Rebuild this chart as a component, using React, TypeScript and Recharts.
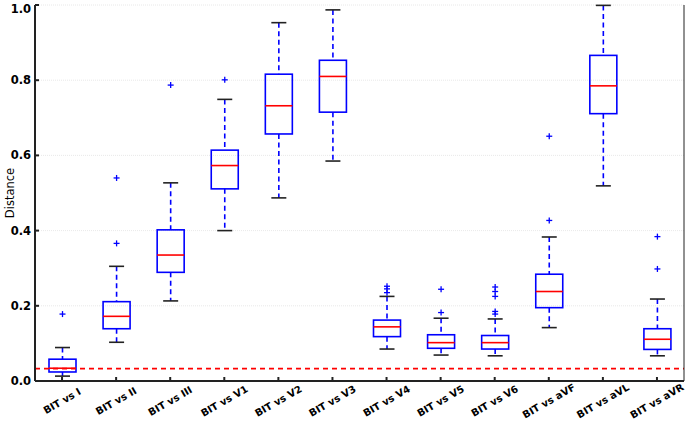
import React from 'react';
import {
  Bar,
  CartesianGrid,
  ComposedChart,
  ReferenceLine,
  XAxis,
  YAxis
} from 'recharts';

const categories = [
  'BIT vs I', 'BIT vs II', 'BIT vs III', 'BIT vs V1', 'BIT vs V2', 'BIT vs V3',
  'BIT vs V4', 'BIT vs V5', 'BIT vs V6', 'BIT vs aVF', 'BIT vs aVL', 'BIT vs aVR'
];
const whiskerLow = [0.013, 0.103, 0.213, 0.4, 0.487, 0.585, 0.085, 0.069, 0.067, 0.142, 0.519, 0.067];
const q1 = [0.024, 0.139, 0.289, 0.511, 0.657, 0.715, 0.118, 0.087, 0.085, 0.195, 0.711, 0.084];
const medians = [0.034, 0.172, 0.335, 0.573, 0.732, 0.81, 0.144, 0.102, 0.102, 0.238, 0.785, 0.111];
const q3 = [0.058, 0.211, 0.402, 0.614, 0.816, 0.853, 0.162, 0.123, 0.121, 0.284, 0.866, 0.139];
const whiskerHigh = [0.089, 0.305, 0.527, 0.749, 0.953, 0.987, 0.225, 0.167, 0.165, 0.383, 0.999, 0.218];
const outliers = [
  [0.178],
  [0.366, 0.54],
  [0.787],
  [0.801],
  [],
  [],
  [0.235, 0.245, 0.252],
  [0.182, 0.244],
  [0.178, 0.185, 0.225, 0.238, 0.25],
  [0.427, 0.651],
  [],
  [0.298, 0.384]
];
const yTicks = [0, 0.2, 0.4, 0.6, 0.8, 1.0];
const threshold = 0.033;

const data = categories.map((name, i) => ({
  name,
  lo: whiskerLow[i],
  q1: q1[i],
  med: medians[i],
  q3: q3[i],
  hi: whiskerHigh[i],
  out: outliers[i]
}));

const FONT = '"DejaVu Sans", sans-serif';

function BoxShape(props: any) {
  const { x, y, width, height, payload } = props;
  const { lo, hi } = payload;
  const k = height / (hi - lo);
  const toY = (v: number) => y + (hi - v) * k;
  const cx = x + width / 2;
  const capW = 15;
  return (
    <g>
      <line x1={cx} x2={cx} y1={toY(hi)} y2={toY(payload.q3)} stroke="#0000ff" strokeWidth={1.6} strokeDasharray="5 3.5" />
      <line x1={cx} x2={cx} y1={toY(payload.q1)} y2={toY(lo)} stroke="#0000ff" strokeWidth={1.6} strokeDasharray="5 3.5" />
      <line x1={cx - capW / 2} x2={cx + capW / 2} y1={toY(hi)} y2={toY(hi)} stroke="#222" strokeWidth={1.6} />
      <line x1={cx - capW / 2} x2={cx + capW / 2} y1={toY(lo)} y2={toY(lo)} stroke="#222" strokeWidth={1.6} />
      <rect
        x={x}
        y={toY(payload.q3)}
        width={width}
        height={toY(payload.q1) - toY(payload.q3)}
        fill="none"
        stroke="#0000ff"
        strokeWidth={1.6}
      />
      <line x1={x} x2={x + width} y1={toY(payload.med)} y2={toY(payload.med)} stroke="#ff0000" strokeWidth={1.6} />
      {payload.out.map((v: number, j: number) => {
        const py = toY(v);
        return (
          <g key={j} stroke="#0000ff" strokeWidth={1.3}>
            <line x1={cx - 3} x2={cx + 3} y1={py} y2={py} />
            <line x1={cx} x2={cx} y1={py - 3} y2={py + 3} />
          </g>
        );
      })}
    </g>
  );
}

function XTick(props: any) {
  const { x, payload } = props;
  const ty = 401;
  return (
    <text
      x={x}
      y={ty}
      transform={`rotate(-30 ${x} ${ty})`}
      textAnchor="middle"
      dominantBaseline="central"
      fontFamily={FONT}
      fontWeight="bold"
      fontSize={10}
      fill="#000"
    >
      {payload.value}
    </text>
  );
}

function YTick(props: any) {
  const { y, payload } = props;
  return (
    <text
      x={31}
      y={y}
      textAnchor="end"
      dominantBaseline="central"
      fontFamily={FONT}
      fontWeight="bold"
      fontSize={11.5}
      fill="#000"
    >
      {payload.value.toFixed(1)}
    </text>
  );
}

const Empty = () => <g />;

function YLabel(props: any) {
  const { viewBox } = props;
  const cy = viewBox.y + viewBox.height / 2;
  return (
    <text
      x={10}
      y={cy}
      transform={`rotate(-90 10 ${cy})`}
      textAnchor="middle"
      dominantBaseline="central"
      fontFamily={FONT}
      fontSize={11.5}
      fill="#000"
    >
      Distance
    </text>
  );
}

export default function App() {
  return (
    <div style={{ position: 'absolute', left: 0, top: 0, background: '#fff' }}>
      <ComposedChart
        width={685}
        height={423}
        data={data}
        margin={{ top: 5, right: 0, bottom: 0, left: 0 }}
        barCategoryGap={0}
      >
        <CartesianGrid vertical={false} stroke="#e2e2e2" strokeDasharray="1 1" strokeWidth={0.8} />
        <XAxis
          dataKey="name"
          height={42}
          stroke="#222"
          strokeWidth={2}
          tickSize={-4}
          tick={<XTick />}
          interval={0}
        />
        <XAxis
          xAxisId="top"
          orientation="top"
          dataKey="name"
          height={0}
          stroke="#222"
          tickSize={-4}
          tick={<Empty />}
          interval={0}
        />
        <YAxis
          domain={[0, 1]}
          ticks={yTicks}
          width={35}
          stroke="#222"
          strokeWidth={2}
          tickSize={-4}
          tick={<YTick />}
          label={{ content: YLabel }}
        />
        <YAxis
          yAxisId="right"
          orientation="right"
          domain={[0, 1]}
          ticks={yTicks}
          width={1}
          stroke="#222"
          tickSize={-4}
          tick={<Empty />}
        />
        <ReferenceLine y={threshold} stroke="#ff0000" strokeWidth={1.6} strokeDasharray="5 4" />
        <Bar
          dataKey={(d: any) => [d.lo, d.hi]}
          barSize={27}
          shape={<BoxShape />}
          isAnimationActive={false}
        />
      </ComposedChart>
    </div>
  );
}
